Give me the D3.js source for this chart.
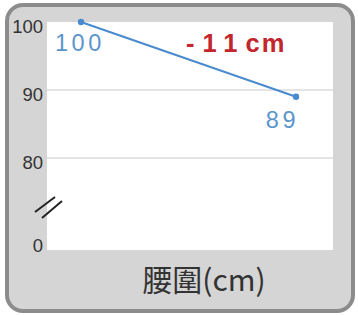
<!DOCTYPE html>
<html>
<head>
<meta charset="utf-8">
<script src="https://cdn.jsdelivr.net/npm/d3@7"></script>
<style>
  body { margin: 0; background: #ffffff; }
  svg text { font-family: "Liberation Sans", "Noto Sans", sans-serif; }
</style>
</head>
<body>
<div id="chart"></div>
<script>
const width = 358;
const height = 315;

// data
const stages = ["before", "after"];
const waist = [100, 89];
const gridTicks = [100, 90, 80];
const zeroTick = 0;
const diffNum = "-11";
const diffUnit = "cm";
const xTitle = "腰圍(cm)";

const svg = d3
  .select("#chart")
  .append("svg")
  .attr("width", width)
  .attr("height", height);

// outer grey panel
svg
  .append("rect")
  .attr("x", 7)
  .attr("y", 5)
  .attr("width", 346)
  .attr("height", 306)
  .attr("rx", 16)
  .attr("fill", "#d5d5d5")
  .attr("stroke", "#8c8c8c")
  .attr("stroke-width", 4);

const plot = { left: 47, right: 333, top: 22, bottom: 250 };

svg
  .append("rect")
  .attr("x", plot.left)
  .attr("y", plot.top)
  .attr("width", plot.right - plot.left)
  .attr("height", plot.bottom - plot.top)
  .attr("fill", "#ffffff");

const x = d3.scalePoint().domain(stages).range([81, 296]);
const y = d3.scaleLinear().domain([80, 100]).range([158, 22]);

// gridlines (100 sits on the top edge)
svg
  .selectAll(".grid")
  .data(gridTicks.filter((d) => d !== 100))
  .enter()
  .append("line")
  .attr("class", "grid")
  .attr("x1", plot.left)
  .attr("x2", plot.right)
  .attr("y1", (d) => y(d))
  .attr("y2", (d) => y(d))
  .attr("stroke", "#dcdcdc")
  .attr("stroke-width", 1.5);

// tick labels
svg
  .selectAll(".tick")
  .data(gridTicks)
  .enter()
  .append("text")
  .attr("class", "tick")
  .attr("x", 43)
  .attr("y", (d) => y(d) + 5)
  .attr("dy", "0.35em")
  .attr("text-anchor", "end")
  .attr("font-size", 18.5)
  .attr("fill", "#333")
  .text((d) => d);

svg
  .append("text")
  .attr("x", 43)
  .attr("y", plot.bottom - 4)
  .attr("dy", "0.35em")
  .attr("text-anchor", "end")
  .attr("font-size", 18.5)
  .attr("fill", "#333")
  .text(zeroTick);

// axis break mark
const brk = svg.append("g").attr("stroke", "#222").attr("stroke-width", 2);
brk.append("line").attr("x1", 35).attr("y1", 212).attr("x2", 55).attr("y2", 197);
brk.append("line").attr("x1", 42).attr("y1", 218).attr("x2", 62).attr("y2", 201);

// line + points
const pts = stages.map((s, i) => [x(s), y(waist[i])]);

svg
  .append("path")
  .attr("d", d3.line()(pts))
  .attr("fill", "none")
  .attr("stroke", "#4a8bcf")
  .attr("stroke-width", 2);

svg
  .selectAll(".dot")
  .data(pts)
  .enter()
  .append("circle")
  .attr("cx", (d) => d[0])
  .attr("cy", (d) => d[1])
  .attr("r", 3.2)
  .attr("fill", "#4a8bcf");

// value labels
svg
  .append("text")
  .attr("x", 55)
  .attr("y", 51)
  .attr("font-size", 23.5)
  .attr("letter-spacing", 3.5)
  .attr("fill", "#5b95cc")
  .text(waist[0]);

svg
  .append("text")
  .attr("x", 299)
  .attr("y", 128)
  .attr("text-anchor", "end")
  .attr("font-size", 23.5)
  .attr("letter-spacing", 3.5)
  .attr("fill", "#5b95cc")
  .text(waist[1]);

const diff = svg
  .append("text")
  .attr("x", 186)
  .attr("y", 52)
  .attr("font-size", 25.5)
  .attr("font-weight", "bold")
  .attr("fill", "#c1272d");
diff.append("tspan").attr("letter-spacing", 8).text(diffNum);
diff.append("tspan").attr("letter-spacing", 2).text(diffUnit);

// x title
svg
  .append("text")
  .attr("x", 204)
  .attr("y", 291)
  .attr("text-anchor", "middle")
  .attr("font-size", 30)
  .attr("fill", "#333")
  .style("font-family", "'Noto Sans CJK TC', sans-serif")
  .text(xTitle);
</script>
</body>
</html>
